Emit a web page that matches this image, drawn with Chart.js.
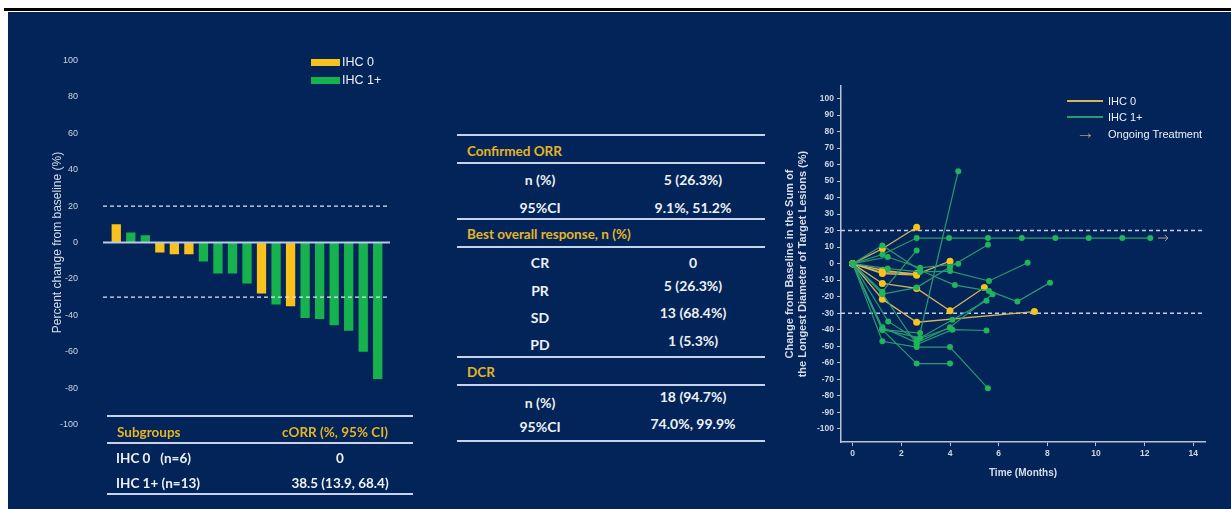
<!DOCTYPE html>
<html>
<head>
<meta charset="utf-8">
<script src="https://cdn.jsdelivr.net/npm/chart.js@4.4.0/dist/chart.umd.min.js"></script>
<style>
  body { margin: 0; width: 1231px; height: 509px; overflow: hidden; background: #fff; position: relative; font-family: Lato, "Liberation Sans", sans-serif; }
  .rule { position: absolute; left: 4px; top: 8px; width: 1227px; height: 3px; background: #000; }
  .panel { position: absolute; left: 8px; top: 12px; right: 0; bottom: 0; background: #022458; }
  canvas { position: absolute; }
  .t { position: absolute; white-space: nowrap; transform: translateY(-50%); color: #eef1f6; font-weight: 700; font-size: 14px; }
  .c { transform: translate(-50%, -50%); }
  .hd { color: #e6b526; font-size: 13.5px; }
  .ln { position: absolute; height: 2px; background: #c6d3ea; }
  .lg { position: absolute; font-family: Arial, "Liberation Sans", sans-serif; color: #eef1f6; font-size: 12.5px; transform: translateY(-50%); white-space: nowrap; }
  .sw { position: absolute; }
</style>
</head>
<body>
<div class="rule"></div>
<div class="panel"></div>

<canvas id="waterfall" width="400" height="437" style="left:20px;top:24px"></canvas>
<canvas id="spider" width="440" height="422" style="left:780px;top:78px"></canvas>

<!-- waterfall legend -->
<div class="sw" style="left:311px;top:59px;width:29px;height:7px;background:#f9c11b"></div>
<div class="lg" style="left:342px;top:62px">IHC 0</div>
<div class="sw" style="left:311px;top:77px;width:29px;height:7px;background:#16b24e"></div>
<div class="lg" style="left:342px;top:80px">IHC 1+</div>

<!-- subgroup table -->
<div class="ln" style="left:107px;top:415px;width:306px"></div>
<div class="t hd" style="left:117px;top:432px">Subgroups</div>
<div class="t hd c" style="left:335px;top:432px">cORR (%, 95% CI)</div>
<div class="ln" style="left:107px;top:442px;width:306px"></div>
<div class="t" style="left:116px;top:458px;font-size:13.5px">IHC 0 &nbsp;&nbsp;(n=6)</div>
<div class="t c" style="left:340px;top:458px;font-size:13.5px">0</div>
<div class="t" style="left:116px;top:483px;font-size:13.5px">IHC 1+ (n=13)</div>
<div class="t c" style="left:340px;top:483px;font-size:13.5px">38.5 (13.9, 68.4)</div>
<div class="ln" style="left:107px;top:493px;width:306px"></div>

<!-- response table -->
<div class="ln" style="left:457px;top:134px;width:308px"></div>
<div class="t hd" style="left:467px;top:151px">Confirmed ORR</div>
<div class="ln" style="left:457px;top:162px;width:308px"></div>
<div class="t c" style="left:540px;top:179px">n (%)</div>
<div class="t c" style="left:693px;top:179px">5 (26.3%)</div>
<div class="t c" style="left:540px;top:207px">95%CI</div>
<div class="t c" style="left:693px;top:207px">9.1%, 51.2%</div>
<div class="ln" style="left:457px;top:218px;width:308px"></div>
<div class="t hd" style="left:467px;top:234px">Best overall response, n (%)</div>
<div class="ln" style="left:457px;top:246px;width:308px"></div>
<div class="t c" style="left:540px;top:262px">CR</div>
<div class="t c" style="left:693px;top:262px">0</div>
<div class="t c" style="left:540px;top:290px">PR</div>
<div class="t c" style="left:693px;top:285px">5 (26.3%)</div>
<div class="t c" style="left:540px;top:317px">SD</div>
<div class="t c" style="left:693px;top:312px">13 (68.4%)</div>
<div class="t c" style="left:540px;top:344px">PD</div>
<div class="t c" style="left:693px;top:340px">1 (5.3%)</div>
<div class="ln" style="left:457px;top:356px;width:308px"></div>
<div class="t hd" style="left:467px;top:372px">DCR</div>
<div class="ln" style="left:457px;top:384px;width:308px"></div>
<div class="t c" style="left:540px;top:402px">n (%)</div>
<div class="t c" style="left:693px;top:396px">18 (94.7%)</div>
<div class="t c" style="left:540px;top:426px">95%CI</div>
<div class="t c" style="left:693px;top:423px">74.0%, 99.9%</div>
<div class="ln" style="left:457px;top:440px;width:308px"></div>

<!-- spider legend -->
<div class="sw" style="left:1067px;top:100px;width:36px;height:2px;background:#d4b65a"></div>
<div class="lg" style="left:1108px;top:101px;font-size:11px">IHC 0</div>
<div class="sw" style="left:1067px;top:116px;width:36px;height:1.5px;background:#2a9a72"></div>
<div class="lg" style="left:1108px;top:117px;font-size:11px">IHC 1+</div>
<div class="lg" style="left:1076px;top:133px;font-size:19px;color:#a8a27a">&rarr;</div>
<div class="lg" style="left:1108px;top:134px;font-size:11px">Ongoing Treatment</div>

<script>
// ---- waterfall: best percent change per patient ----
const patientGroups = ['IHC 0', 'IHC 1+', 'IHC 1+', 'IHC 0', 'IHC 0', 'IHC 0', 'IHC 1+', 'IHC 1+', 'IHC 1+', 'IHC 1+',
                       'IHC 0', 'IHC 1+', 'IHC 0', 'IHC 1+', 'IHC 1+', 'IHC 1+', 'IHC 1+', 'IHC 1+', 'IHC 1+'];
const bestChange = [10, 5.5, 4, -5.5, -6.5, -6.5, -10.5, -17, -17, -22.5,
                    -28, -34, -35, -41.5, -42, -45.5, -48.5, -60, -75];
const waterfallTicks = [100, 80, 60, 40, 20, 0, -20, -40, -60, -80, -100];
const waterfallRefs = [20, -30];

// ---- spider: change over time per patient ----
const ihc0Times = [
  [0, 1.22, 2.63],
  [0, 1.22, 2.63, 4.0],
  [0, 1.22, 2.63],
  [0, 1.22, 2.63, 4.0, 5.41],
  [0, 1.22, 2.63, 7.47],
  [0, 1.22, 2.63]
];
const ihc0Values = [
  [0, 9, 22],
  [0, -4, -6.5, 1.5],
  [0, -5.5, -6],
  [0, -12, -15, -28.5, -14.5],
  [0, -21.5, -35.5, -29],
  [0, -6, -7]
];
const ihc1Times = [
  [0, 1.22, 2.63, 3.96, 5.56, 6.95, 8.33, 9.70, 11.08, 12.23],
  [0, 1.22, 2.77, 4.2, 5.6, 6.77, 8.11],
  [0, 1.44, 2.77, 4.34],
  [0, 1.22, 2.63],
  [0, 1.22, 2.77, 4.34],
  [0, 1.22, 2.63, 4.0, 5.56],
  [0, 1.44, 2.77, 4.0, 5.6, 7.19],
  [0, 1.22, 2.77, 4.1, 5.5],
  [0, 1.22, 2.63, 4.0, 5.75],
  [0, 1.22, 2.63, 4.0, 5.56],
  [0, 1.22, 2.63, 4.0],
  [0, 1.22, 2.63, 4.1, 5.5],
  [0, 1.46, 2.63, 4.0]
];
const ihc1Values = [
  [0, 5.5, 15.5, 15.5, 15.5, 15.5, 15.5, 15.5, 15.5, 15.5],
  [0, 11, -4, -13, -16.5, -23, -11.5],
  [0, 4, -2.5, 0],
  [0, -17, 8],
  [0, -40, -42, 56],
  [0, -18.5, -14.5, -2, 11.5],
  [0, -3, -5, -4.5, -10.5, 0.5],
  [0, -40, -45, -34, -22.5],
  [0, -38.5, -48, -38.5, -18.5],
  [0, -47, -50.5, -50.5, -75.5],
  [0, -40, -60.5, -60.5],
  [0, -18, -49, -40, -40.5],
  [0, -35, -46, -39]
];
const ongoingTime = [12.75];
const ongoingValue = [15.5];
const spiderXTicks = [0, 2, 4, 6, 8, 10, 12, 14];
const spiderYTicks = [100, 90, 80, 70, 60, 50, 40, 30, 20, 10, 0, -10, -20, -30, -40, -50, -60, -70, -80, -90, -100];
const spiderRefs = [20, -30];

const YELLOW = '#f9c11b';
const GREEN = '#16b24e';
const AXIS_TEXT = '#cfd6e3';

Chart.defaults.font.family = 'Arial, "Liberation Sans", sans-serif';
Chart.defaults.color = AXIS_TEXT;

// horizontal reference lines drawn through the y scale
const refLines = {
  id: 'refLines',
  beforeDatasetsDraw(chart, args, opts) {
    if (!opts.behind) return;
    drawRefs(chart, opts);
  },
  afterDatasetsDraw(chart, args, opts) {
    if (opts.behind) return;
    drawRefs(chart, opts);
  }
};

function drawRefs(chart, opts) {
  const { ctx, chartArea, scales } = chart;
  const x0 = chartArea.left - (opts.extendLeft || 0);
  const x1 = chartArea.right + (opts.extendRight || 0);
  ctx.save();
  (opts.lines || []).forEach(l => {
    const y = scales.y.getPixelForValue(l.value);
    ctx.beginPath();
    ctx.setLineDash(l.dash || []);
    ctx.strokeStyle = l.color;
    ctx.lineWidth = l.width;
    ctx.moveTo(x0, y);
    ctx.lineTo(x1, y);
    ctx.stroke();
  });
  ctx.restore();
}

// waterfall
new Chart(document.getElementById('waterfall'), {
  type: 'bar',
  data: {
    labels: bestChange.map((v, i) => 'P' + (i + 1)),
    datasets: [{
      data: bestChange,
      backgroundColor: patientGroups.map(g => g === 'IHC 0' ? YELLOW : GREEN),
      barPercentage: 0.64,
      categoryPercentage: 1
    }]
  },
  options: {
    responsive: false,
    animation: false,
    layout: { padding: { top: 0, bottom: 0, right: 35, left: 0 } },
    plugins: {
      legend: { display: false },
      tooltip: { enabled: false },
      refLines: {
        behind: false,
        extendLeft: 6,
        extendRight: 5,
        lines: [
          { value: 0, color: '#b9c9e6', width: 2 },
          ...waterfallRefs.map(v => ({ value: v, color: '#dfe6f2', width: 1.2, dash: [4, 3] }))
        ]
      }
    },
    scales: {
      x: { display: false },
      y: {
        min: -100,
        max: 100,
        afterBuildTicks: axis => { axis.ticks = waterfallTicks.map(v => ({ value: v })); },
        afterFit: axis => { axis.width = 89; },
        grid: { display: false, drawTicks: false },
        border: { display: false },
        ticks: { padding: 31, font: { size: 9 }, color: AXIS_TEXT },
        title: {
          display: true,
          text: 'Percent change from baseline (%)',
          font: { size: 12 },
          color: '#d8dee9',
          padding: { top: 30, bottom: 0 }
        }
      }
    }
  },
  plugins: [refLines]
});

// spider
const toPoints = (times, values) => times.map((t, i) => ({ x: t, y: values[i] }));
const spiderSets = [];
ihc1Times.forEach((times, i) => {
  spiderSets.push({
    data: toPoints(times, ihc1Values[i]),
    showLine: true,
    borderColor: '#2a9a72',
    borderWidth: 1.2,
    pointBackgroundColor: '#1fb55a',
    pointBorderWidth: 0,
    pointRadius: 3
  });
});
ihc0Times.forEach((times, i) => {
  spiderSets.push({
    data: toPoints(times, ihc0Values[i]),
    showLine: true,
    borderColor: '#d4b65a',
    borderWidth: 1.3,
    pointBackgroundColor: '#f7c21c',
    pointBorderWidth: 0,
    pointRadius: 3.5
  });
});

const ongoingArrows = {
  id: 'ongoingArrows',
  afterDatasetsDraw(chart) {
    const { ctx, scales } = chart;
    ctx.save();
    ctx.strokeStyle = '#a8a27a';
    ctx.lineWidth = 1;
    ongoingTime.forEach((t, i) => {
      const x = scales.x.getPixelForValue(t);
      const y = scales.y.getPixelForValue(ongoingValue[i]);
      ctx.beginPath();
      ctx.moveTo(x - 5, y);
      ctx.lineTo(x + 5, y);
      ctx.moveTo(x + 2, y - 3);
      ctx.lineTo(x + 5, y);
      ctx.lineTo(x + 2, y + 3);
      ctx.stroke();
    });
    ctx.restore();
  }
};

new Chart(document.getElementById('spider'), {
  type: 'scatter',
  data: { datasets: spiderSets },
  options: {
    responsive: false,
    animation: false,
    layout: { padding: { top: 0, bottom: 0, right: 15, left: 0 } },
    plugins: {
      legend: { display: false },
      tooltip: { enabled: false },
      refLines: {
        behind: true,
        lines: spiderRefs.map(v => ({ value: v, color: '#c3cfe4', width: 1.5, dash: [4, 3] }))
      }
    },
    scales: {
      x: {
        min: -0.48,
        max: 14.48,
        afterBuildTicks: axis => { axis.ticks = spiderXTicks.map(v => ({ value: v })); },
        afterFit: axis => { axis.height = 58; },
        grid: { drawOnChartArea: false, drawTicks: true, tickLength: 4, color: '#b9c3d6' },
        border: { display: true, color: '#b9c3d6', width: 1.5 },
        ticks: { padding: 3, font: { size: 8.5, weight: 'bold' }, color: AXIS_TEXT },
        title: {
          display: true,
          text: 'Time (Months)',
          font: { size: 10, weight: 'bold' },
          color: '#d8dee9',
          padding: { top: 0, bottom: 21 }
        }
      },
      y: {
        min: -108,
        max: 107.5,
        afterBuildTicks: axis => { axis.ticks = spiderYTicks.map(v => ({ value: v })); },
        afterFit: axis => { axis.width = 61; },
        grid: { drawOnChartArea: false, drawTicks: true, tickLength: 4, color: '#b9c3d6' },
        border: { display: true, color: '#b9c3d6', width: 1.5 },
        ticks: { padding: 3, font: { size: 8.5, weight: 'bold' }, color: AXIS_TEXT },
        title: {
          display: true,
          text: ['Change from Baseline in the Sum of', 'the Longest Diameter of Target Lesions (%)'],
          font: { size: 11, weight: 'bold' },
          color: '#d8dee9',
          padding: { top: 3, bottom: 0 }
        }
      }
    }
  },
  plugins: [refLines, ongoingArrows]
});
</script>
</body>
</html>
